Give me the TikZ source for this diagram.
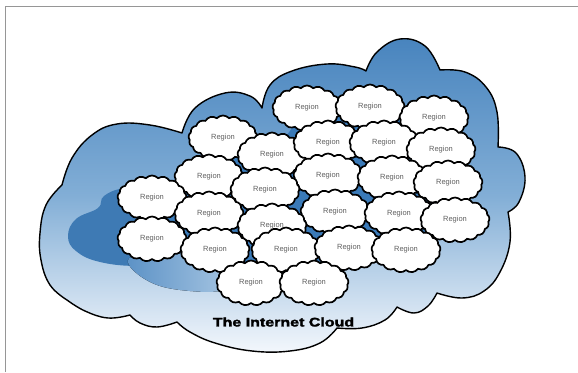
\documentclass[tikz,border=0pt]{standalone}
\usepackage{fontspec}
\usepackage{graphicx}
\setmainfont{Liberation Sans}
\newfontfamily\titlefont{Liberation Sans}[BoldFeatures={FakeBold=2}]
\usetikzlibrary{shapes.symbols}
\definecolor{cTop}{RGB}{72,132,190}
\definecolor{cMid}{RGB}{130,174,214}
\definecolor{cBot}{RGB}{243,247,252}
\definecolor{cDark}{RGB}{62,122,180}
\definecolor{cMed}{RGB}{92,146,198}
\definecolor{cGap}{RGB}{58,122,184}
\definecolor{cFrame}{RGB}{150,150,150}
\definecolor{cText}{RGB}{95,95,95}
\tikzset{
  region/.style={cloud, cloud puffs=17, cloud puff arc=95, aspect=1.6,
    draw=black, line width=1.7pt, fill=white,
    minimum width=69pt, minimum height=45pt, inner sep=0pt,
    font=\fontsize{7.5}{8}\selectfont, text=cText},
  bigline/.style={draw=black, line width=1.4pt, line join=round},
  lobe/.style={smooth, tension=0.7},
}
\newcommand\bigpath{
 plot[lobe] coordinates {(62,185) (72,158) (92,135) (117,124) (150,125) (182,133)}
 -- plot[lobe] coordinates {(182,133) (195,108) (225,93) (250,96) (262,108)}
 -- plot[lobe] coordinates {(262,108) (270,85) (292,71) (327,64) (355,67) (366,71)}
 -- plot[lobe] coordinates {(366,71) (377,52) (400,39) (425,46) (440,70)}
 -- plot[lobe] coordinates {(440,70) (465,72) (486,87) (497,112) (498,147)}
 -- plot[lobe] coordinates {(498,147) (516,153) (525,177) (519,202) (508,212)}
 -- plot[lobe] coordinates {(508,212) (510,242) (500,272) (484,291) (462,298) (437,293)}
 -- plot[lobe] coordinates {(437,293) (428,306) (414,313) (397,307)}
 -- plot[lobe] coordinates {(397,307) (385,320) (362,328) (337,328)}
 -- plot[lobe] coordinates {(337,328) (320,343) (290,351) (252,351) (215,343) (190,332) (177,322)}
 -- plot[lobe] coordinates {(177,322) (157,327) (140,323) (130,315)}
 -- plot[lobe] coordinates {(130,315) (108,318) (85,311) (67,300)}
 -- plot[lobe] coordinates {(67,300) (50,285) (41,260) (40,233) (46,205) (62,185)}
 -- cycle}
\begin{document}
\begin{tikzpicture}[x=1pt,y=-1pt]
\useasboundingbox (0,0) rectangle (578,372);
% frame
\coordinate (fa) at (5.5,372);
\coordinate (fb) at (5.5,6);
\coordinate (fc) at (578,6);
\draw[cFrame, line width=0.8pt] (fa) -- (fb) -- (fc);
% big cloud
\path[top color=cTop, bottom color=cBot, middle color=cMid] \bigpath;
\begin{scope}
  \clip \bigpath;
  \fill[cDark] plot[smooth cycle, tension=0.7] coordinates {(68,236) (76,219) (98,208) (104,196) (125,188) (165,186) (200,200) (205,245) (185,262) (140,266) (100,262) (76,251)};
  \fill[left color=cMed, right color=cMid!60!cBot] plot[smooth cycle, tension=0.7] coordinates {(128,260) (150,282) (190,291) (228,289) (242,272) (215,256) (160,254)};
  \fill[cGap, rounded corners=8pt] (307,108) -- (370,107) -- (434,118) -- (441,150) -- (448,183) -- (455,220) -- (406,250) -- (349,248) -- (314,283) -- (251,283) -- (215,250) -- (152,239) -- (152,198) -- (209,177) -- (223,138) -- (272,155) -- cycle;
\end{scope}
\path[bigline] \bigpath;
% regions
\foreach \n/\x/\y in {c1/307/108, c2/370/107, c3/434/118, c4/223/138, c5/272/155,
  c6/328/143, c7/384/143, c8/441/150, c9/209/177, c10/328/176, c11/392/178,
  c12/448/183, c13/152/198, c14/265/190, c15/209/214, c16/335/212, c17/399/214,
  c18/455/220, c19/152/239, c20/272/226, c21/215/250, c22/286/250, c23/349/248,
  c24/406/250, c25/251/283, c26/314/283}
  \node[region] (\n) at (\x,\y) {Region};
% title
\node[font=\titlefont\bfseries\fontsize{12.5}{14}\selectfont, inner sep=0pt] (title) at (283.5,322) {\scalebox{1.28}[1]{The Internet Cloud}};
\end{tikzpicture}
\end{document}
